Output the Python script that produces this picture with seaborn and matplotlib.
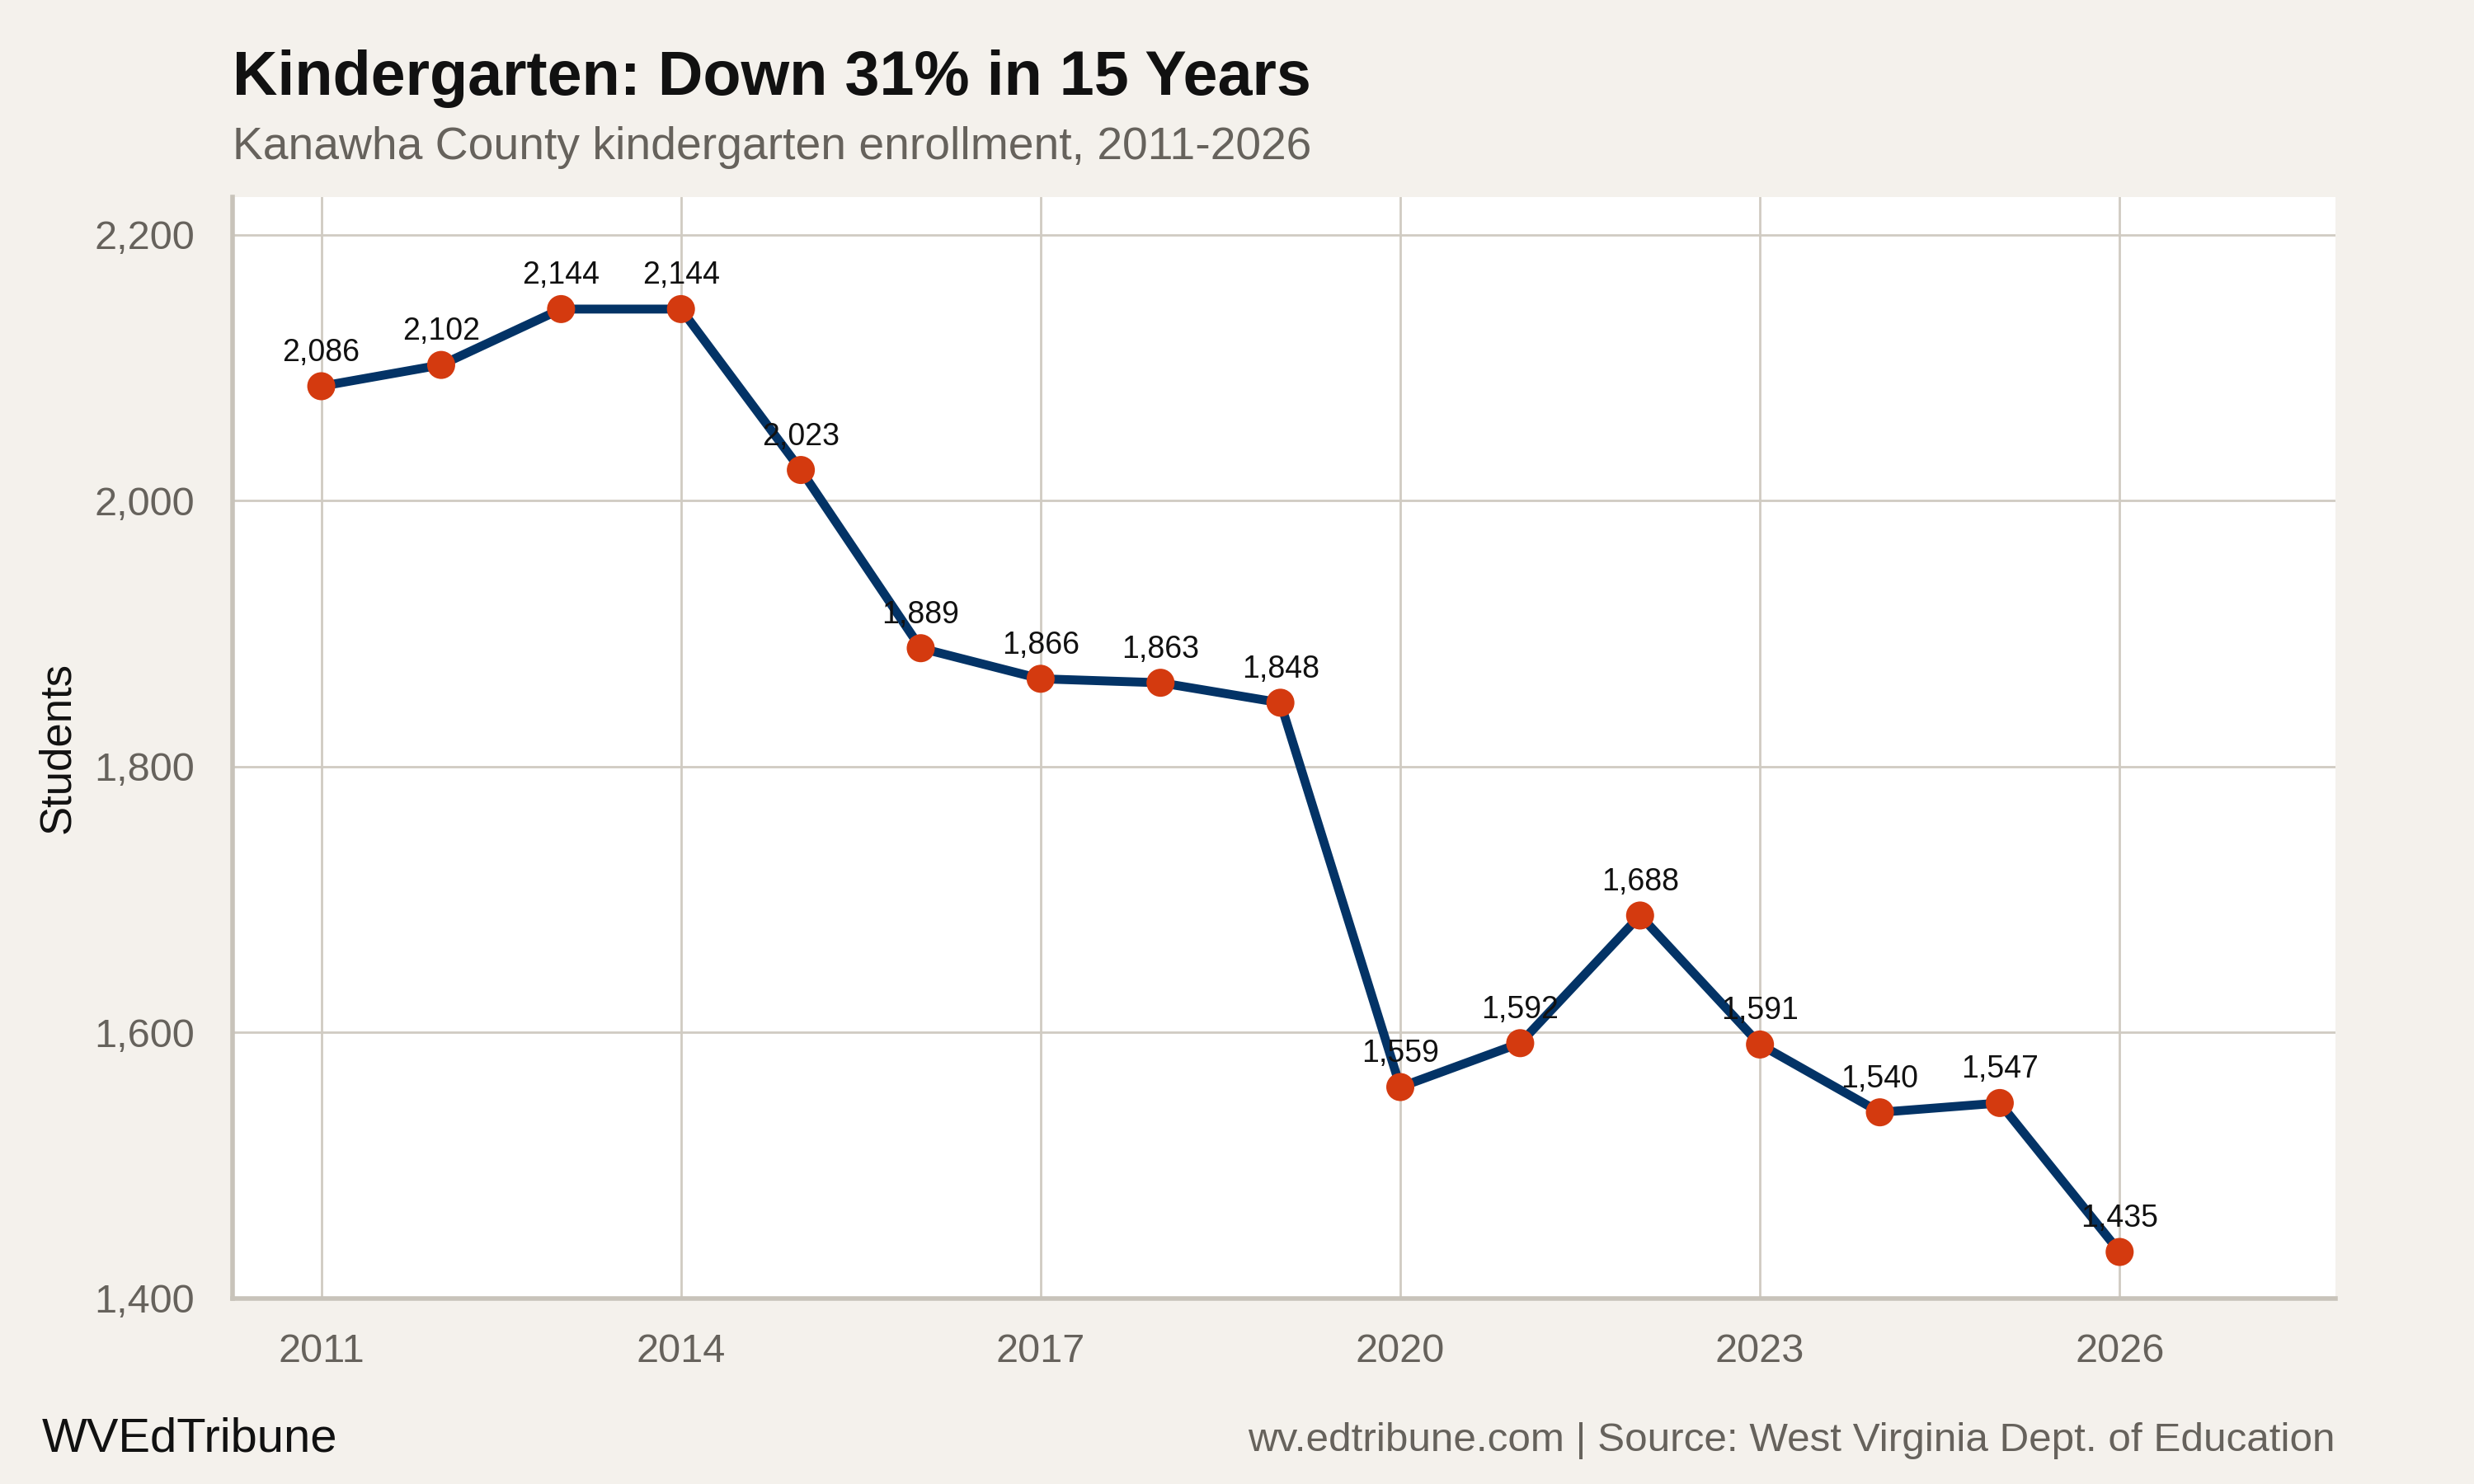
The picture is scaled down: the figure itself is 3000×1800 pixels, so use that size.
import pandas as pd
import seaborn as sns
import matplotlib.pyplot as plt

# Kanawha County kindergarten enrollment
years = [2011, 2012, 2013, 2014, 2015, 2016, 2017, 2018,
         2019, 2020, 2021, 2022, 2023, 2024, 2025, 2026]
students = [2086, 2102, 2144, 2144, 2023, 1889, 1866, 1863,
            1848, 1559, 1592, 1688, 1591, 1540, 1547, 1435]
x_ticks = [2011, 2014, 2017, 2020, 2023, 2026]
y_ticks = [1400, 1600, 1800, 2000, 2200]

df = pd.DataFrame({"year": years, "students": students})

bg = "#f4f1ec"
grid_col = "#d0cbc2"

sns.set_theme(style="whitegrid")
plt.rcParams["font.family"] = ["Liberation Sans", "DejaVu Sans"]

fig = plt.figure(figsize=(15, 9), dpi=200, facecolor=bg)
ax = fig.add_axes([0.094, 0.125, 0.850, 0.742])
ax.set_facecolor("white")

sns.lineplot(data=df, x="year", y="students", ax=ax, color="#033366",
             linewidth=3.9, zorder=3)
sns.scatterplot(data=df, x="year", y="students", ax=ax, color="#d43a0f",
                s=150, edgecolor="none", zorder=4)

for yr, v in zip(years, students):
    ax.annotate(f"{v:,}", (yr, v), xytext=(0, 11), textcoords="offset points",
                ha="center", va="baseline", fontsize=13.5, color="#111111", zorder=5)

ax.set_xlim(2010.26, 2027.8)
ax.set_ylim(1400, 2228)
ax.set_xticks(x_ticks)
ax.set_yticks(y_ticks)
ax.set_yticklabels([f"{t:,}" for t in y_ticks])
ax.tick_params(axis="both", labelsize=17.5, colors=grid_col,
               length=5, width=1, direction="out")
ax.tick_params(axis="both", labelcolor="#66625c")
ax.tick_params(axis="x", pad=10)
ax.tick_params(axis="y", pad=11.5)
ax.grid(True, color=grid_col, linewidth=1)
ax.set_xlabel("")
ax.set_ylabel("Students", fontsize=19, color="#111111", labelpad=7)

for side in ["top", "right"]:
    ax.spines[side].set_visible(False)
for side in ["left", "bottom"]:
    ax.spines[side].set_visible(True)
    ax.spines[side].set_color("#c8c3ba")
    ax.spines[side].set_linewidth(2)

fig.text(0.094, 0.936, "Kindergarten: Down 31% in 15 Years", fontsize=27.2,
         fontweight="bold", color="#111111", ha="left", va="baseline")
fig.text(0.094, 0.893, "Kanawha County kindergarten enrollment, 2011-2026",
         fontsize=19.9, color="#66625c", ha="left", va="baseline")
fig.text(0.017, 0.022, "WVEdTribune", fontsize=20.9, color="#111111",
         ha="left", va="baseline")
fig.text(0.944, 0.022, "wv.edtribune.com | Source: West Virginia Dept. of Education",
         fontsize=17.8, color="#66625c", ha="right", va="baseline")

fig.savefig("out.png", dpi=200, facecolor=bg)
